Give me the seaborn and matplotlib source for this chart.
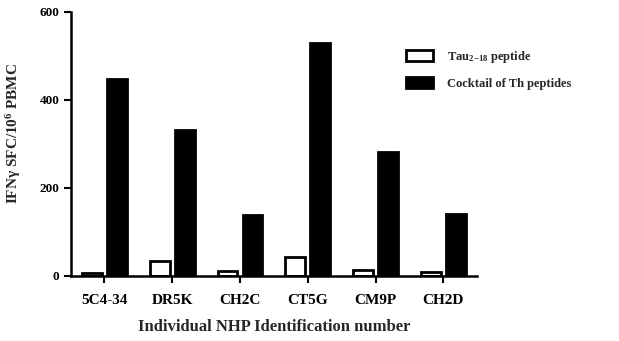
import matplotlib
matplotlib.use("Agg")
import matplotlib.pyplot as plt
import seaborn as sns
import pandas as pd

animals = ["5C4-34", "DR5K", "CH2C", "CT5G", "CM9P", "CH2D"]
tau_values = [7, 34, 11, 43, 14, 9]
cocktail_values = [448, 331, 139, 530, 282, 141]
series_names = ["Tau$_{2\\mathrm{-}18}$ peptide", "Cocktail of Th peptides"]
y_ticks = [0, 200, 400, 600]

df = pd.DataFrame({
    "animal": animals * 2,
    "series": [series_names[0]] * len(animals) + [series_names[1]] * len(animals),
    "value": tau_values + cocktail_values,
})

sns.set_style("ticks")
plt.rcParams["font.family"] = ["Liberation Serif", "DejaVu Serif"]
plt.rcParams["font.weight"] = "bold"
plt.rcParams["mathtext.fontset"] = "custom"
plt.rcParams["mathtext.rm"] = "Liberation Serif:bold"
plt.rcParams["mathtext.it"] = "Liberation Serif:bold"
plt.rcParams["mathtext.bf"] = "Liberation Serif:bold"

fig = plt.figure(figsize=(6.19, 3.41), dpi=100)
ax = fig.add_axes([0.115, 0.191, 0.656, 0.774])

sns.barplot(data=df, x="animal", y="value", hue="series",
            palette=["white", "black"], width=0.74, gap=0.21,
            edgecolor="black", linewidth=2.0, errorbar=None, ax=ax)

ax.set_xlim(-0.49, 5.5)
ax.set_ylim(0, 600)
ax.set_yticks(y_ticks)
ax.set_yticklabels([str(t) for t in y_ticks], fontsize=9.5, fontweight="bold")
ax.set_xticks(range(len(animals)))
ax.set_xticklabels(animals, fontsize=11, fontweight="bold")
ax.tick_params(axis="both", direction="out", length=5, width=1.5, colors="black")
ax.tick_params(axis="x", pad=8)
for s in ["left", "bottom"]:
    ax.spines[s].set_linewidth(1.8)
    ax.spines[s].set_color("black")
sns.despine(ax=ax)

ax.set_xlabel("Individual NHP Identification number", fontsize=12, fontweight="bold", labelpad=9)
ax.set_ylabel("IFN\u03b3 SFC/10$^{6}$ PBMC", fontsize=11, fontweight="bold")
ax.yaxis.set_label_coords(-0.118, 0.54)

leg = ax.legend(loc="upper left", bbox_to_anchor=(0.645, 0.875), bbox_transform=fig.transFigure,
                frameon=False, fontsize=9, handlelength=2.2, handleheight=1.0,
                handletextpad=1.1, labelspacing=0.95, borderpad=0)
for t in leg.get_texts():
    t.set_fontweight("bold")

fig.savefig("out.png", dpi=100)
